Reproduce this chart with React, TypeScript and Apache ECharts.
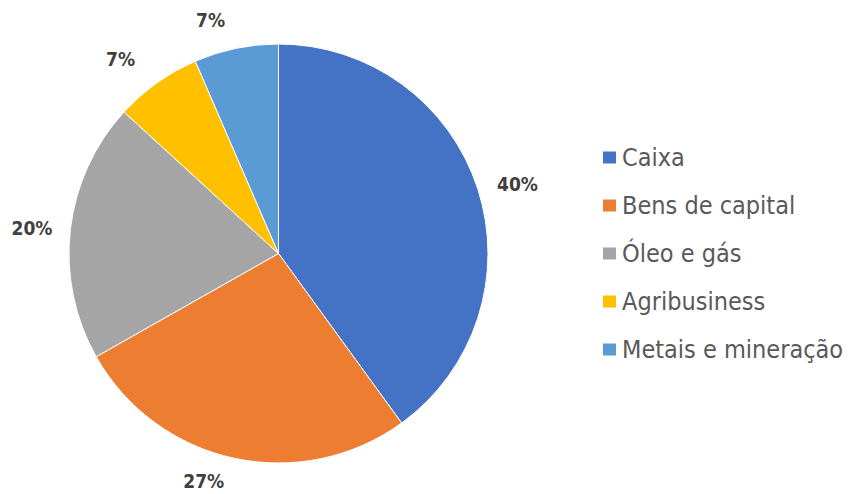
import React, { useEffect, useRef } from "react";
import * as echarts from "echarts";

const categories = ["Caixa", "Bens de capital", "Óleo e gás", "Agribusiness", "Metais e mineração"];
const values = [40, 26.8, 20, 6.7, 6.5];
const colors = ["#4472C4", "#ED7D31", "#A5A5A5", "#FFC000", "#5B9BD5"];
const labelGaps = [15, 23, 13, 29, 29];

const FONT = "'DejaVu Sans Condensed', 'DejaVu Sans', sans-serif";

export default function App() {
  const ref = useRef<HTMLDivElement>(null);
  useEffect(() => {
    document.body.style.margin = "0";
    const chart = echarts.init(ref.current!, null, { renderer: "svg" });
    chart.setOption({
      animation: false,
      backgroundColor: "#ffffff",
      color: colors,
      legend: {
        orient: "vertical",
        left: 596,
        top: 140,
        icon: "rect",
        itemWidth: 15,
        itemHeight: 14,
        itemGap: 23,
        textStyle: { fontFamily: FONT, fontSize: 25, color: "#595959", lineHeight: 25 },
        data: categories,
      },
      series: [
        {
          type: "pie",
          center: [278.5, 253.5],
          radius: 209.5,
          startAngle: 90,
          clockwise: true,
          avoidLabelOverlap: false,
          itemStyle: { borderColor: "#ffffff", borderWidth: 1 },
          label: {
            show: true,
            position: "outside",
            fontFamily: FONT,
            fontSize: 19,
            fontWeight: "bold",
            color: "#404040",
            formatter: (p: any) => `${Math.round(p.value)}%`,
          },
          labelLine: { show: false, length: 21, length2: 0 },
          data: categories.map((name, i) => ({
            name,
            value: values[i],
            labelLine: { show: false, length: labelGaps[i], length2: 0 },
          })),
        },
      ],
    });
    return () => chart.dispose();
  }, []);
  return <div ref={ref} style={{ width: 848, height: 494 }} />;
}
